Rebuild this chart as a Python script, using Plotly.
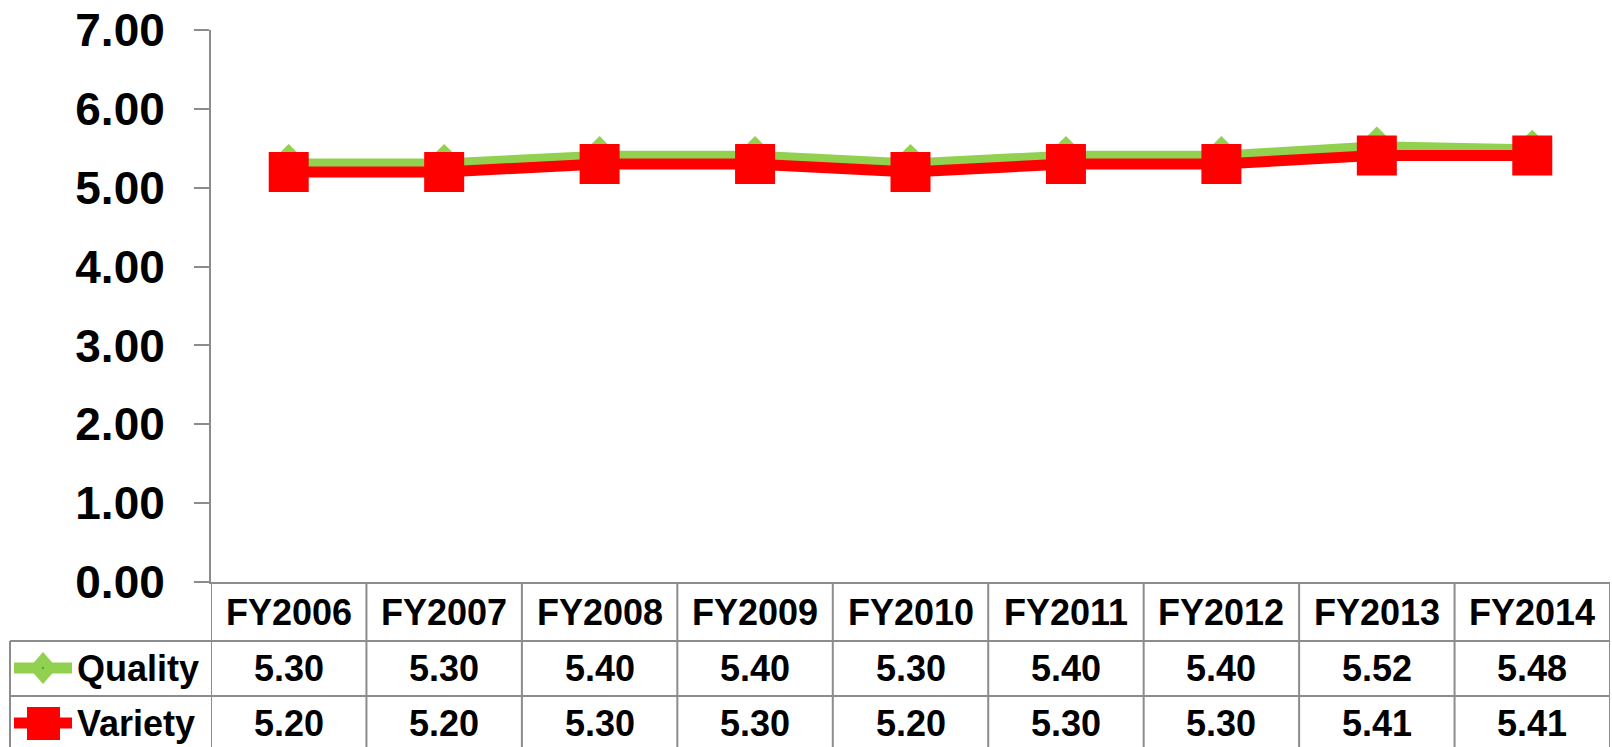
import plotly.graph_objects as go

categories = ["FY2006", "FY2007", "FY2008", "FY2009", "FY2010", "FY2011", "FY2012", "FY2013", "FY2014"]
quality = [5.30, 5.30, 5.40, 5.40, 5.30, 5.40, 5.40, 5.52, 5.48]
variety = [5.20, 5.20, 5.30, 5.30, 5.20, 5.30, 5.30, 5.41, 5.41]
series_names = ["Quality", "Variety"]

GREEN = "#92D050"
RED = "#FF0000"
GRID = "#8C8C8C"
FONT = "Liberation Sans, Arial, sans-serif"

W, H = 1612, 747
L, R, T = 211, 2, 30
PB = 582  # bottom pixel of plot
B = H - PB
PW = W - L - R
PH = PB - T


def px(x):
    return (x - L) / PW


def py(y):
    return (PB - y) / PH


fig = go.Figure()
fig.add_trace(go.Scatter(
    x=categories, y=quality, name=series_names[0], mode="lines+markers",
    line=dict(color=GREEN, width=11),
    marker=dict(symbol="diamond", size=31, color=GREEN),
))
fig.add_trace(go.Scatter(
    x=categories, y=variety, name=series_names[1], mode="lines+markers",
    line=dict(color=RED, width=11),
    marker=dict(symbol="square", size=40, color=RED, line=dict(width=0)),
))

shapes = []
line_style = dict(color=GRID, width=2)
for i in range(len(categories) + 1):
    shapes.append(dict(type="line", xref="x", yref="paper", x0=i - 0.5, x1=i - 0.5,
                       y0=0, y1=py(760), line=line_style))
for yy in (641, 696):
    shapes.append(dict(type="line", xref="paper", yref="paper", x0=px(10), x1=1,
                       y0=py(yy), y1=py(yy), line=line_style))
shapes.append(dict(type="line", xref="paper", yref="paper", x0=px(10), x1=px(10),
                   y0=py(641), y1=py(760), line=line_style))

for yy, col in ((668, GREEN), (723, RED)):
    shapes.append(dict(type="line", xref="paper", yref="paper", x0=px(14), x1=px(72),
                       y0=py(yy), y1=py(yy), line=dict(color=col, width=11)))


def ppath(points):
    return "M " + " L ".join(f"{px(a)},{py(b)}" for a, b in points) + " Z"


shapes.append(dict(type="path", xref="paper", yref="paper",
                   path=ppath([(43, 652), (57, 668), (43, 684), (29, 668)]),
                   fillcolor=GREEN, line=dict(width=0)))
shapes.append(dict(type="path", xref="paper", yref="paper",
                   path=ppath([(28, 708), (59, 708), (59, 739), (28, 739)]),
                   fillcolor=RED, line=dict(color=RED, width=2)))
shapes.append(dict(type="circle", xref="paper", yref="paper",
                   x0=px(42), x1=px(44), y0=py(669), y1=py(667),
                   fillcolor="#00B050", line=dict(width=0)))

annotations = []
tfont = dict(family=FONT, size=36, color="black", weight="bold")
for c in categories:
    annotations.append(dict(x=c, y=py(612), xref="x", yref="paper", text=c,
                            showarrow=False, font=tfont, xanchor="center", yanchor="middle"))
for vals, yy in ((quality, 668), (variety, 723)):
    for c, v in zip(categories, vals):
        annotations.append(dict(x=c, y=py(yy), xref="x", yref="paper", text=f"{v:.2f}",
                                showarrow=False, font=tfont, xanchor="center", yanchor="middle"))
for name, yy in zip(series_names, (668, 723)):
    annotations.append(dict(x=px(75), y=py(yy), xref="paper", yref="paper", text=name,
                            showarrow=False, font=tfont, xanchor="left", yanchor="middle"))

fig.update_layout(
    width=W, height=H,
    margin=dict(l=L, r=R, t=T, b=B, pad=0),
    paper_bgcolor="white", plot_bgcolor="white",
    showlegend=False,
    shapes=shapes, annotations=annotations,
    xaxis=dict(type="category", range=[-0.5, len(categories) - 0.5], showticklabels=False,
               showline=True, linecolor=GRID, linewidth=2, ticks="", showgrid=False,
               zeroline=False),
    yaxis=dict(range=[0, 7], dtick=1, tickformat=".2f", showgrid=False, zeroline=False,
               showline=True, linecolor=GRID, linewidth=2, ticks="outside", ticklen=15,
               tickcolor=GRID, tickwidth=2, ticklabelstandoff=20,
               tickfont=dict(family=FONT, size=46, color="black", weight="bold")),
)

fig.write_html("out.html", config={"displayModeBar": False},
               post_script="document.body.style.margin='0px';document.body.style.overflow='hidden';")
